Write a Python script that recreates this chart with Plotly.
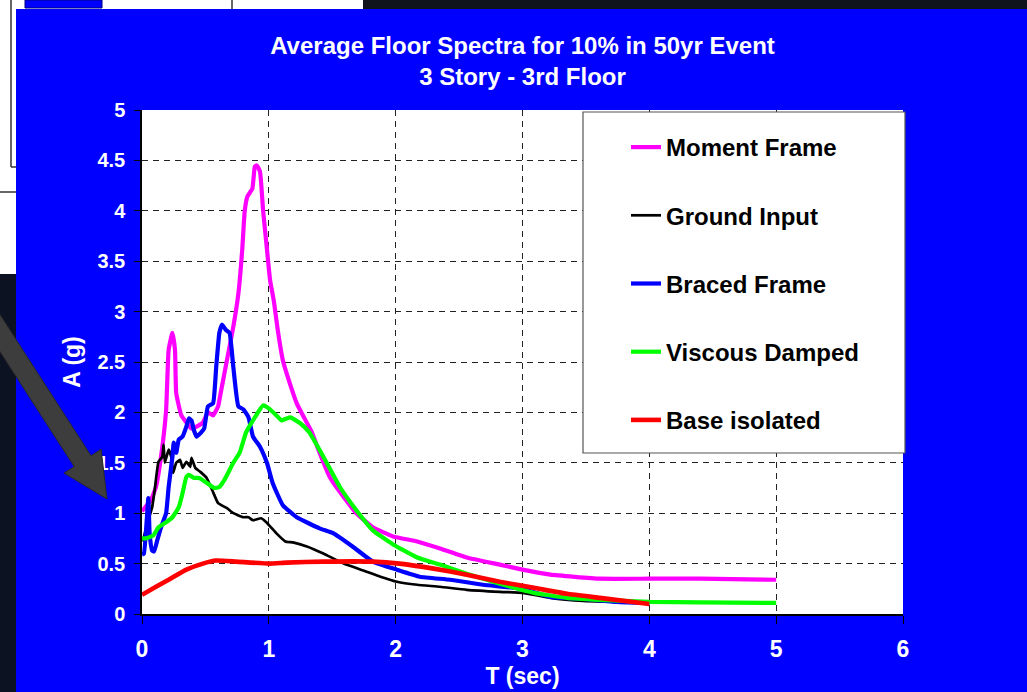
import plotly.graph_objects as go

# ---------------- data ----------------
mf_T = [0, 0.07, 0.11, 0.15, 0.19, 0.21, 0.24, 0.26, 0.27, 0.31, 0.35, 0.39, 0.43, 0.48, 0.52, 0.56, 0.6,
        0.62, 0.67, 0.72, 0.76, 0.79, 0.81, 0.83, 0.87, 0.89, 0.905, 0.93, 0.955, 0.985, 1.01, 1.04, 1.07,
        1.11, 1.17, 1.22, 1.29, 1.34, 1.4, 1.48, 1.59, 1.69, 1.82, 1.98, 2.17, 2.35, 2.56, 2.82, 3.0, 3.22,
        3.61, 4.0, 4.4, 5.0]
mf_A = [1.02, 1.13, 1.26, 1.56, 2.02, 2.62, 2.79, 2.62, 2.19, 1.97, 1.9, 1.84, 1.86, 1.9, 2.0, 1.97, 2.06,
        2.19, 2.52, 2.85, 3.18, 3.61, 4.0, 4.14, 4.22, 4.44, 4.45, 4.39, 4.0, 3.62, 3.31, 3.1, 2.82,
        2.52, 2.27, 2.09, 1.92, 1.8, 1.6, 1.36, 1.16, 1.0, 0.86, 0.77, 0.72, 0.65, 0.56, 0.49, 0.44, 0.39,
        0.35, 0.35, 0.35, 0.34]

gi_T = [0.005, 0.05, 0.08, 0.1, 0.13, 0.16, 0.17, 0.18, 0.21, 0.23, 0.245, 0.27, 0.3, 0.32, 0.35, 0.38,
        0.39, 0.42, 0.46, 0.51, 0.56, 0.6, 0.67, 0.72, 0.8, 0.84, 0.875, 0.94, 0.98, 1.06, 1.13, 1.19, 1.3,
        1.43, 1.59, 1.75, 1.88, 2.01, 2.17, 2.35, 2.56, 2.82, 3.0, 3.22, 3.48, 3.74, 4.0]
gi_A = [0.72, 0.93, 1.06, 1.23, 1.51, 1.56, 1.68, 1.5, 1.63, 1.56, 1.4, 1.5, 1.53, 1.45, 1.51, 1.46,
        1.55, 1.45, 1.41, 1.35, 1.21, 1.1, 1.05, 1.0, 0.96, 0.96, 0.93, 0.95, 0.91, 0.8, 0.72, 0.71, 0.67,
        0.6, 0.5, 0.43, 0.37, 0.32, 0.29, 0.27, 0.24, 0.22, 0.21, 0.16, 0.13, 0.12, 0.11]

bf_T = [0, 0.015, 0.05, 0.06, 0.08, 0.095, 0.12, 0.15, 0.19, 0.21, 0.24, 0.25, 0.27, 0.29, 0.32, 0.35,
        0.37, 0.39, 0.41, 0.43, 0.465, 0.49, 0.52, 0.56, 0.585, 0.61, 0.63, 0.66, 0.69, 0.72, 0.76, 0.8,
        0.84, 0.875, 0.93, 0.985, 1.03, 1.11, 1.22, 1.4, 1.51, 1.66, 1.82, 2.01, 2.19, 2.43, 2.69, 3.0,
        3.22, 3.48, 3.74, 4.0]
bf_A = [0.59, 0.6, 1.15, 0.8, 0.63, 0.62, 0.73, 0.86, 1.0, 1.26, 1.56, 1.7, 1.6, 1.73, 1.76, 1.86,
        1.94, 1.92, 1.82, 1.76, 1.8, 1.84, 2.06, 2.09, 2.45, 2.79, 2.87, 2.82, 2.79, 2.45, 2.06, 2.03,
        1.95, 1.76, 1.66, 1.5, 1.3, 1.08, 0.96, 0.85, 0.8, 0.67, 0.52, 0.44, 0.37, 0.34, 0.29, 0.25,
        0.17, 0.15, 0.12, 0.11]

vd_T = [0, 0.03, 0.09, 0.13, 0.19, 0.24, 0.29, 0.32, 0.35, 0.37, 0.41, 0.45, 0.5, 0.57, 0.61, 0.65, 0.72,
        0.77, 0.82, 0.875, 0.955, 1.0, 1.06, 1.1, 1.14, 1.17, 1.25, 1.32, 1.43, 1.56, 1.69, 1.82, 1.98,
        2.17, 2.35, 2.56, 2.82, 3.09, 3.35, 3.61, 4.0, 4.4, 5.0]
vd_A = [0.75, 0.75, 0.78, 0.86, 0.91, 0.96, 1.06, 1.2, 1.36, 1.38, 1.35, 1.35, 1.31, 1.25, 1.26, 1.33, 1.5,
        1.6, 1.8, 1.92, 2.07, 2.04, 1.97, 1.92, 1.94, 1.95, 1.89, 1.8, 1.56, 1.26, 1.03, 0.83, 0.69,
        0.56, 0.49, 0.4, 0.3, 0.21, 0.16, 0.14, 0.12, 0.115, 0.11]

bi_T = [0, 0.11, 0.21, 0.35, 0.48, 0.585, 0.74, 1.0, 1.14, 1.43, 1.82, 2.03, 2.3, 2.56, 2.82, 3.09, 3.35,
        3.61, 4.0]
bi_A = [0.19, 0.27, 0.34, 0.44, 0.5, 0.53, 0.52, 0.5, 0.51, 0.52, 0.52, 0.5, 0.45, 0.39, 0.32, 0.26, 0.2,
        0.16, 0.1]

series_names = ["Moment Frame", "Ground Input", "Braced Frame", "Viscous Damped", "Base isolated"]
x_ticks = [0, 1, 2, 3, 4, 5, 6]
y_ticks = [0, 0.5, 1, 1.5, 2, 2.5, 3, 3.5, 4, 4.5, 5]

# ---------------- layout helpers ----------------
W, H = 1027, 692
L, R, T_, B = 142, 903, 110, 614


def px(x):
    return (x - L) / (R - L)


def py(y):
    return (B - y) / (B - T_)


FONT = "Liberation Sans, Arial, sans-serif"
BLUE = "#0000FF"

fig = go.Figure()
styles = [
    (mf_T, mf_A, "#FF00FF", 4.2),
    (gi_T, gi_A, "#000000", 2.7),
    (bf_T, bf_A, "#0000FF", 4.2),
    (vd_T, vd_A, "#00FF00", 4.2),
    (bi_T, bi_A, "#FF0000", 4.6),
]
for name, (xs, ys, col, w) in zip(series_names, styles):
    fig.add_trace(go.Scatter(x=xs, y=ys, mode="lines", name=name, legendgroup=name,
                             line=dict(color=col, width=w, shape="spline", smoothing=0.4)))

shapes = []
# surrounding slide fragments
shapes.append(dict(type="rect", xref="paper", yref="paper", x0=px(0), x1=px(363), y0=py(0), y1=py(9),
                   fillcolor="white", line_width=0, layer="below"))
shapes.append(dict(type="rect", xref="paper", yref="paper", x0=px(363), x1=px(W), y0=py(0), y1=py(9),
                   fillcolor="#10141c", line_width=0, layer="below"))
shapes.append(dict(type="rect", xref="paper", yref="paper", x0=px(0), x1=px(16), y0=py(9), y1=py(274),
                   fillcolor="white", line_width=0, layer="below"))
shapes.append(dict(type="rect", xref="paper", yref="paper", x0=px(0), x1=px(16), y0=py(274), y1=py(H),
                   fillcolor="#0c1222", line_width=0, layer="below"))
shapes.append(dict(type="rect", xref="paper", yref="paper", x0=px(25), x1=px(102), y0=py(0), y1=py(8),
                   fillcolor="#0000FF", line=dict(color="#000080", width=1), layer="below"))
for (xa, ya, xb, yb) in [(11, 0, 11, 167), (11, 167, 16, 167), (0, 192, 16, 192), (232, 0, 232, 9)]:
    shapes.append(dict(type="line", xref="paper", yref="paper", x0=px(xa), y0=py(ya), x1=px(xb), y1=py(yb),
                       line=dict(color="#333333", width=1.5), layer="below"))

# grey arrow
tip = (107, 499)
d = (0.542, 0.840)
n = (0.840, -0.542)
bc = (tip[0] - 45 * d[0], tip[1] - 45 * d[1])
st = (bc[0] - 180 * d[0], bc[1] - 180 * d[1])
pts = [
    (st[0] + 10 * n[0], st[1] + 10 * n[1]),
    (bc[0] + 10 * n[0], bc[1] + 10 * n[1]),
    (bc[0] + 22 * n[0], bc[1] + 22 * n[1]),
    tip,
    (bc[0] - 22 * n[0], bc[1] - 22 * n[1]),
    (bc[0] - 10 * n[0], bc[1] - 10 * n[1]),
    (st[0] - 10 * n[0], st[1] - 10 * n[1]),
]
path = "M " + " L ".join(f"{px(a):.5f},{py(b):.5f}" for a, b in pts) + " Z"
shapes.append(dict(type="path", xref="paper", yref="paper", path=path, fillcolor="#3d3d3d",
                   line=dict(color="#2a2a2a", width=1), layer="above"))

# legend box
shapes.append(dict(type="rect", xref="paper", yref="paper", x0=px(583), x1=px(905), y0=py(453), y1=py(112),
                   fillcolor="white", line=dict(color="#555555", width=1.2), layer="above"))

fig.update_layout(
    width=W, height=H,
    margin=dict(l=L, r=W - R, t=T_, b=H - B, pad=0, autoexpand=False),
    paper_bgcolor=BLUE,
    plot_bgcolor="white",
    font=dict(family=FONT, color="white"),
    title=dict(text="Average Floor Spectra for 10% in 50yr Event<br>3 Story - 3rd Floor",
               font=dict(family=FONT, size=24, color="white", weight="bold"),
               x=0.5, xref="paper", xanchor="center", y=1 - 54 / H, yref="container", yanchor="middle"),
    showlegend=True,
    legend=dict(x=px(626), y=py(125), xanchor="left", yanchor="top", bgcolor="rgba(0,0,0,0)",
                borderwidth=0, itemwidth=30, tracegroupgap=34,
                font=dict(family=FONT, size=24, color="black", weight="bold")),
    shapes=shapes,
)

fig.update_xaxes(range=[0, 6], tickvals=x_ticks, ticktext=[str(v) for v in x_ticks], automargin=False,
                 showline=True, linecolor="black", linewidth=1.5,
                 ticks="outside", ticklen=8, tickcolor="black", tickwidth=1,
                 showgrid=True, gridcolor="#222222", gridwidth=1, griddash="6px,5px",
                 zeroline=False, tickfont=dict(family=FONT, size=23, color="white", weight="bold"),
                 ticklabelstandoff=6,
                 title=dict(text="T (sec)", standoff=7,
                            font=dict(family=FONT, size=23, color="white", weight="bold")))
fig.update_yaxes(range=[0, 5], tickvals=y_ticks, ticktext=[f"{v:g}" for v in y_ticks], automargin=False,
                 showline=True, linecolor="black", linewidth=1.5,
                 ticks="outside", ticklen=6, tickcolor="black", tickwidth=1,
                 showgrid=True, gridcolor="#222222", gridwidth=1, griddash="6px,5px",
                 zeroline=False, tickfont=dict(family=FONT, size=20, color="white", weight="bold"),
                 ticklabelstandoff=5,
                 title=dict(text="A (g)", standoff=10,
                            font=dict(family=FONT, size=23, color="white", weight="bold")))

fig.write_html("out.html")
